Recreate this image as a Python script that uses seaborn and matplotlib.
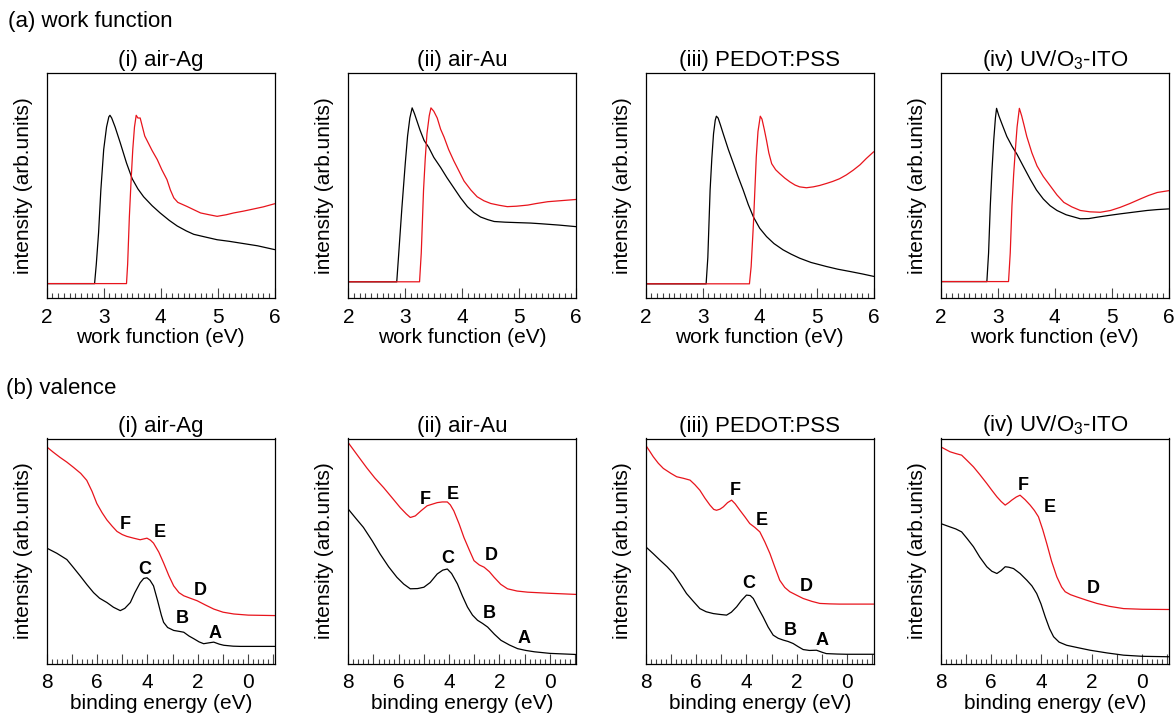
import matplotlib
matplotlib.use("Agg")
import matplotlib.pyplot as plt
from matplotlib.ticker import MultipleLocator, FuncFormatter
import pandas as pd
import seaborn as sns

# ---- (a) work function spectra: x in eV, intensity in % of axes height ----
wf_ag_black_x = [2.0, 2.84, 2.87, 2.91, 2.95, 3.0, 3.05, 3.09, 3.11, 3.14, 3.2, 3.29, 3.4, 3.5, 3.6, 3.7,
                 3.85, 3.99, 4.15, 4.29, 4.45, 4.58, 4.8, 4.99, 5.2, 5.4, 5.7, 6.0]
wf_ag_black_y = [6.4, 6.4, 15, 29, 48, 66, 76, 80.5, 81.2, 80, 76, 69, 60, 53, 48.5, 45,
                 41, 37.8, 34.5, 32, 29.8, 28.3, 27, 25.9, 25.2, 24.4, 23.2, 21.5]
wf_ag_red_x = [2.0, 3.40, 3.42, 3.45, 3.48, 3.51, 3.54, 3.57, 3.6, 3.64, 3.68, 3.72, 3.76, 3.85, 3.94, 4.02,
               4.11, 4.17, 4.23, 4.3, 4.46, 4.6, 4.7, 4.85, 4.99, 5.15, 5.28, 5.45, 5.58, 5.8, 6.0]
wf_ag_red_y = [6.4, 6.4, 15, 36, 52, 66, 76, 81.2, 80, 80, 76, 72, 70, 65.5, 61.5, 57,
               52.6, 48, 44.5, 42.5, 40.7, 39, 37.8, 37, 36.3, 37, 37.8, 38.6, 39.3, 40.5, 41.9]

wf_au_black_x = [2.0, 2.85, 2.88, 2.94, 3.0, 3.04, 3.08, 3.12, 3.16, 3.26, 3.33, 3.41, 3.5, 3.62, 3.73, 3.85,
                 3.97, 4.09, 4.2, 4.32, 4.45, 4.56, 4.75, 4.97, 5.2, 5.38, 5.7, 6.0]
wf_au_black_y = [7.2, 7.2, 18, 40, 60, 72, 80, 84.5, 82, 74.5, 70, 67, 62.5, 58, 53.5, 49,
                 44.5, 40.6, 38, 36, 34.8, 34, 33.7, 33.5, 33.3, 33, 32.4, 31.7]
wf_au_red_x = [2.0, 3.25, 3.28, 3.32, 3.35, 3.38, 3.42, 3.45, 3.5, 3.56, 3.62, 3.68, 3.76, 3.85, 3.94, 4.03,
               4.15, 4.26, 4.38, 4.5, 4.65, 4.79, 4.95, 5.15, 5.3, 5.5, 5.75, 6.0]
wf_au_red_y = [7.2, 7.2, 20, 48, 62, 73, 81, 84.5, 83, 80, 75, 71.5, 66, 61, 56.5, 52,
               48, 45, 43.2, 42, 41.2, 40.6, 40.8, 41.3, 42, 42.8, 43.3, 43.8]

wf_pedot_black_x = [2.0, 3.06, 3.09, 3.13, 3.16, 3.19, 3.22, 3.24, 3.27, 3.31, 3.36, 3.45, 3.54, 3.62, 3.71, 3.8,
                    3.89, 4.0, 4.12, 4.25, 4.41, 4.55, 4.70, 4.9, 5.17, 5.37, 5.58, 5.8, 6.0]
wf_pedot_black_y = [6.3, 6.3, 18, 48, 62, 73, 79, 80.8, 80, 77, 73, 66, 59.7, 54, 48, 41.5,
                    36, 31, 27.3, 24.2, 21.4, 19.5, 17.7, 15.8, 14, 12.8, 11.8, 10.7, 9.6]
wf_pedot_red_x = [2.0, 3.82, 3.85, 3.89, 3.94, 3.97, 4.01, 4.04, 4.08, 4.12, 4.16, 4.21, 4.28, 4.35, 4.44, 4.53,
                  4.62, 4.70, 4.82, 4.94, 5.05, 5.17, 5.28, 5.40, 5.52, 5.64, 5.76, 5.87, 6.0]
wf_pedot_red_y = [6.3, 6.3, 14, 33, 62.7, 74, 80.8, 79.5, 75, 70, 64.5, 59.7, 57, 55.3, 53.3, 51.6,
                  50.2, 49.4, 49, 49.4, 50, 50.9, 51.8, 53, 54.7, 56.8, 59.2, 62, 65]

wf_ito_black_x = [2.0, 2.81, 2.84, 2.87, 2.9, 2.93, 2.96, 2.98, 3.02, 3.08, 3.16, 3.25, 3.34, 3.45, 3.57, 3.68,
                  3.80, 3.92, 4.04, 4.2, 4.45, 4.6, 4.74, 4.95, 5.15, 5.4, 5.62, 5.8, 6.0]
wf_ito_black_y = [7.3, 7.3, 20, 41, 57, 70, 80, 84.3, 81, 77, 71.8, 67.5, 63.8, 58.5, 52.8, 48,
                  44, 41, 38.9, 37, 35.2, 35.3, 35.9, 36.7, 37.4, 38.2, 38.9, 39.3, 39.6]
wf_ito_red_x = [2.0, 3.19, 3.22, 3.25, 3.28, 3.31, 3.34, 3.38, 3.42, 3.46, 3.51, 3.6, 3.69, 3.8, 3.92, 4.04,
                4.16, 4.3, 4.45, 4.62, 4.80, 4.98, 5.15, 5.32, 5.50, 5.65, 5.80, 6.0]
wf_ito_red_y = [7.3, 7.3, 20, 41, 55, 66, 76, 84.3, 81, 77, 71.8, 64.5, 58.7, 54, 49.9, 45.8,
                42.5, 40.5, 38.9, 38.3, 38.1, 38.9, 40.3, 42, 44, 45.6, 46.9, 47.7]

# ---- (b) valence spectra: binding energy in eV ----
vb_ag_red_x = [8.0, 7.75, 7.47, 7.2, 6.94, 6.65, 6.41, 6.2, 6.01, 5.8, 5.61, 5.4, 5.21, 5.0, 4.82, 4.55, 4.29,
               4.02, 3.88, 3.76, 3.55, 3.36, 3.15, 2.96, 2.75, 2.56, 2.3, 2.03, 1.7, 1.37, 1.0, 0.57, 0.0, -1.05]
vb_ag_red_y = [96.3, 94, 91.6, 89.5, 87.2, 84.5, 81.4, 76.5, 71.1, 67, 63.8, 61, 58.7, 57.3, 56.5, 55.7, 55,
               55.7, 54.8, 53.5, 49.5, 44.7, 39, 34.5, 31.5, 30.1, 29, 27.9, 26, 24.2, 22.8, 22, 21.5, 21.3]
vb_ag_black_x = [8.0, 7.6, 7.2, 6.95, 6.67, 6.4, 6.14, 5.9, 5.61, 5.35, 5.08, 4.9, 4.68, 4.5, 4.29, 4.15, 4.02,
                 3.9, 3.76, 3.6, 3.45, 3.36, 3.2, 2.96, 2.75, 2.56, 2.35, 2.16, 1.95, 1.77, 1.55, 1.37, 1.15,
                 0.97, 0.6, 0.31, -1.05]
vb_ag_black_y = [51.3, 49, 46.2, 42.8, 38.9, 35, 31.5, 29, 27.1, 25, 23.5, 24.5, 27.1, 31.5, 35.9, 37.8, 38.1,
                 37, 34.5, 28, 21.5, 18.3, 16, 14.7, 14.3, 13.9, 12.2, 11, 9.6, 8.8, 9.2, 9.5, 8.6,
                 8.1, 7.7, 7.6, 7.6]

vb_au_red_x = [8.0, 7.6, 7.27, 6.95, 6.6, 6.25, 5.94, 5.7, 5.54, 5.45, 5.34, 5.1, 4.87, 4.67, 4.47, 4.27, 4.07,
               3.95, 3.81, 3.6, 3.41, 3.2, 3.01, 2.8, 2.61, 2.4, 2.21, 1.95, 1.68, 1.3, 0.88, 0.0, -1.05]
vb_au_red_y = [98.1, 92, 87, 82.5, 78.2, 73.5, 69.3, 66.5, 64.9, 65.2, 65.6, 68, 70.1, 70.8, 71.5, 71.8, 71.8,
               70.5, 67.8, 62, 56, 50.5, 45.7, 43.8, 42.8, 40.8, 38.3, 35.2, 33.2, 32.2, 31.7, 31.2, 30.7]
vb_au_black_x = [8.0, 7.7, 7.4, 7.05, 6.74, 6.4, 6.07, 5.8, 5.54, 5.25, 5.0, 4.75, 4.47, 4.25, 4.07, 3.9, 3.67,
                 3.47, 3.27, 3.07, 2.87, 2.67, 2.47, 2.2, 1.94, 1.6, 1.28, 0.95, 0.61, 0.0, -1.05]
vb_au_black_y = [68.6, 64.5, 60.5, 54.5, 48.7, 43, 38.3, 35.3, 33.2, 33.3, 33.9, 36, 39.8, 41.5, 42, 40, 35.4,
                 30, 25.1, 21.5, 19.2, 17.8, 16.2, 13, 10.3, 8.2, 6.6, 5.8, 5.2, 4.5, 4.0]

vb_pedot_red_x = [8.0, 7.85, 7.7, 7.5, 7.3, 7.0, 6.77, 6.5, 6.24, 6.05, 5.85, 5.65, 5.45, 5.3, 5.19, 5.05, 4.92,
                  4.75, 4.59, 4.45, 4.26, 4.05, 3.87, 3.67, 3.47, 3.27, 3.07, 2.88, 2.68, 2.48, 2.28, 2.0, 1.75,
                  1.4, 1.09, 0.7, 0.3, -1.05]
vb_pedot_red_y = [97, 94.5, 91.9, 89, 86.7, 84.5, 83, 82.3, 81.5, 79.5, 77, 73.5, 70.4, 68.5, 68.1, 68.6, 69.6,
                  71.5, 72.6, 71, 68.1, 65, 62.2, 60.5, 58.5, 54, 48.9, 43, 37, 33.8, 31.9, 30.3, 28.9,
                  27.6, 26.7, 26.5, 26.4, 26.4]
vb_pedot_black_x = [8.0, 7.7, 7.43, 7.15, 6.9, 6.65, 6.38, 6.1, 5.85, 5.6, 5.32, 5.05, 4.79, 4.6, 4.39, 4.2, 4.0,
                    3.85, 3.73, 3.55, 3.34, 3.14, 2.94, 2.74, 2.54, 2.35, 2.15, 1.95, 1.75, 1.5, 1.22, 1.0, 0.83,
                    0.4, 0.03, -1.05]
vb_pedot_black_y = [51.9, 48.8, 45.9, 43, 40, 35.8, 31.1, 27.5, 24.4, 23, 22.2, 21.8, 21.5, 22.8, 25.2, 28, 30.4,
                    30.2, 28.9, 25, 20.7, 16.2, 12.6, 11.2, 10.4, 9.8, 8.9, 7.5, 6.2, 5.8, 5.9, 5.0, 4.4,
                    4.2, 4.1, 4.1]

vb_ito_red_x = [8.0, 7.63, 7.4, 7.17, 6.95, 6.7, 6.45, 6.17, 5.97, 5.77, 5.6, 5.44, 5.3, 5.18, 5.0, 4.85, 4.65,
                4.45, 4.28, 4.12, 3.95, 3.79, 3.6, 3.39, 3.2, 3.06, 2.85, 2.6, 2.2, 1.8, 1.3, 0.74, 0.0, -1.05]
vb_ito_red_y = [96.3, 94.1, 93.3, 92.6, 90.2, 87.4, 84, 80, 77, 74.1, 72, 70.4, 71.5, 72.6, 74, 74.8, 72.8,
                70.4, 68, 65.2, 59.5, 53.3, 45.5, 38.5, 34, 31.9, 30.6, 29.6, 28.1, 26.7, 25.4, 24.4, 24.1, 24.0]
vb_ito_black_x = [8.0, 7.63, 7.4, 7.17, 6.95, 6.7, 6.45, 6.17, 5.97, 5.77, 5.6, 5.44, 5.3, 5.11, 4.85, 4.58, 4.38,
                  4.19, 4.02, 3.85, 3.68, 3.52, 3.3, 3.0, 2.5, 2.07, 1.4, 0.74, 0.0, -1.05]
vb_ito_black_y = [62.2, 60.7, 59.8, 58.5, 55.5, 51.9, 47.3, 43, 41, 40, 41.3, 43, 42.8, 42.2, 40, 37, 34.5,
                  31.1, 26.5, 20.7, 15.5, 11.9, 9.5, 8.1, 6.9, 5.9, 4.7, 3.7, 3.2, 3.0]

# peak letters (label, x, y)
peaks_ag = [("F", 4.88, 61.6), ("E", 3.52, 58.2), ("C", 4.11, 41.8), ("D", 1.9, 32.3), ("B", 2.63, 20.1), ("A", 1.3, 13.2)]
peaks_au = [("F", 4.94, 73.0), ("E", 3.87, 75.2), ("C", 4.07, 46.5), ("D", 2.31, 47.9), ("B", 2.41, 22.1), ("A", 1.04, 11.1)]
peaks_pedot = [("F", 4.46, 77.0), ("E", 3.38, 63.7), ("C", 3.89, 35.6), ("D", 1.62, 34.1), ("B", 2.25, 14.8), ("A", 0.99, 10.4)]
peaks_ito = [("F", 4.74, 79.3), ("E", 3.68, 69.3), ("D", 1.93, 33.3)]

titles = ["(i) air-Ag", "(ii) air-Au", "(iii) PEDOT:PSS", "(iv) UV/O$_3$-ITO"]

RED = "#e8141c"

sns.set_theme(style="white")
plt.rcParams["font.family"] = ["Liberation Sans", "DejaVu Sans"]
plt.rcParams["mathtext.fontset"] = "custom"
plt.rcParams["mathtext.rm"] = "Liberation Sans"
plt.rcParams["mathtext.it"] = "Liberation Sans"
plt.rcParams["mathtext.default"] = "regular"
plt.rcParams["text.color"] = "black"
plt.rcParams["axes.labelcolor"] = "black"
plt.rcParams["xtick.color"] = "black"

fig = plt.figure(figsize=(11.74, 7.14), dpi=100)

lefts = [46.7, 348.3, 645.7, 940.7]
W, H = 1174.0, 714.0
aw = 228.0 / W
ah = 225.0 / H


def style_axes(ax):
    for s in ax.spines.values():
        s.set_visible(True)
        s.set_color("black")
        s.set_linewidth(0.9)
    ax.set_yticks([])
    ax.set_ylim(0, 100)
    ax.tick_params(axis="x", which="major", direction="in", length=7, width=0.8,
                   color="#444444", labelsize=15, pad=7, bottom=True)
    ax.tick_params(axis="x", which="minor", direction="in", length=3.5, width=0.8,
                   color="#444444", bottom=True)
    ax.set_ylabel("intensity (arb.units)", fontsize=15, labelpad=10)


def draw(ax, x, y, color):
    df = pd.DataFrame({"x": x, "y": y})
    sns.lineplot(data=df, x="x", y="y", ax=ax, color=color, linewidth=0.9, sort=False)


wf_data = [
    (wf_ag_black_x, wf_ag_black_y, wf_ag_red_x, wf_ag_red_y),
    (wf_au_black_x, wf_au_black_y, wf_au_red_x, wf_au_red_y),
    (wf_pedot_black_x, wf_pedot_black_y, wf_pedot_red_x, wf_pedot_red_y),
    (wf_ito_black_x, wf_ito_black_y, wf_ito_red_x, wf_ito_red_y),
]
vb_data = [
    (vb_ag_black_x, vb_ag_black_y, vb_ag_red_x, vb_ag_red_y, peaks_ag),
    (vb_au_black_x, vb_au_black_y, vb_au_red_x, vb_au_red_y, peaks_au),
    (vb_pedot_black_x, vb_pedot_black_y, vb_pedot_red_x, vb_pedot_red_y, peaks_pedot),
    (vb_ito_black_x, vb_ito_black_y, vb_ito_red_x, vb_ito_red_y, peaks_ito),
]

# top row: work function
for i, (bx, by, rx, ry) in enumerate(wf_data):
    ax = fig.add_axes([lefts[i] / W, 1 - 298.0 / H, aw, ah])
    draw(ax, bx, by, "black")
    draw(ax, rx, ry, RED)
    ax.set_xlim(2, 6)
    ax.xaxis.set_major_locator(MultipleLocator(1))
    ax.xaxis.set_minor_locator(MultipleLocator(0.1))
    style_axes(ax)
    ax.set_xlabel("work function (eV)", fontsize=15, labelpad=1)
    ax.set_title(titles[i], fontsize=16, pad=5)

# bottom row: valence
for i, (bx, by, rx, ry, peaks) in enumerate(vb_data):
    ax = fig.add_axes([lefts[i] / W, 1 - 663.5 / H, aw, ah])
    draw(ax, bx, by, "black")
    draw(ax, rx, ry, RED)
    ax.set_xlim(8, -1.05)
    ax.xaxis.set_major_locator(MultipleLocator(1))
    ax.xaxis.set_minor_locator(MultipleLocator(0.2))
    ax.xaxis.set_major_formatter(FuncFormatter(lambda v, p: f"{v:.0f}" if round(v) % 2 == 0 else ""))
    style_axes(ax)
    ax.set_xlabel("binding energy (eV)", fontsize=15, labelpad=1)
    ax.set_title(titles[i], fontsize=16, pad=5)
    for lab, px, py in peaks:
        ax.text(px, py, lab, fontsize=13, fontweight="bold", ha="center", va="center")

fig.text(8 / W, 1 - 21 / H, "(a) work function", fontsize=16, va="center", ha="left")
fig.text(6 / W, 1 - 389 / H, "(b) valence", fontsize=16, va="center", ha="left")

fig.savefig("out.png", dpi=100)
